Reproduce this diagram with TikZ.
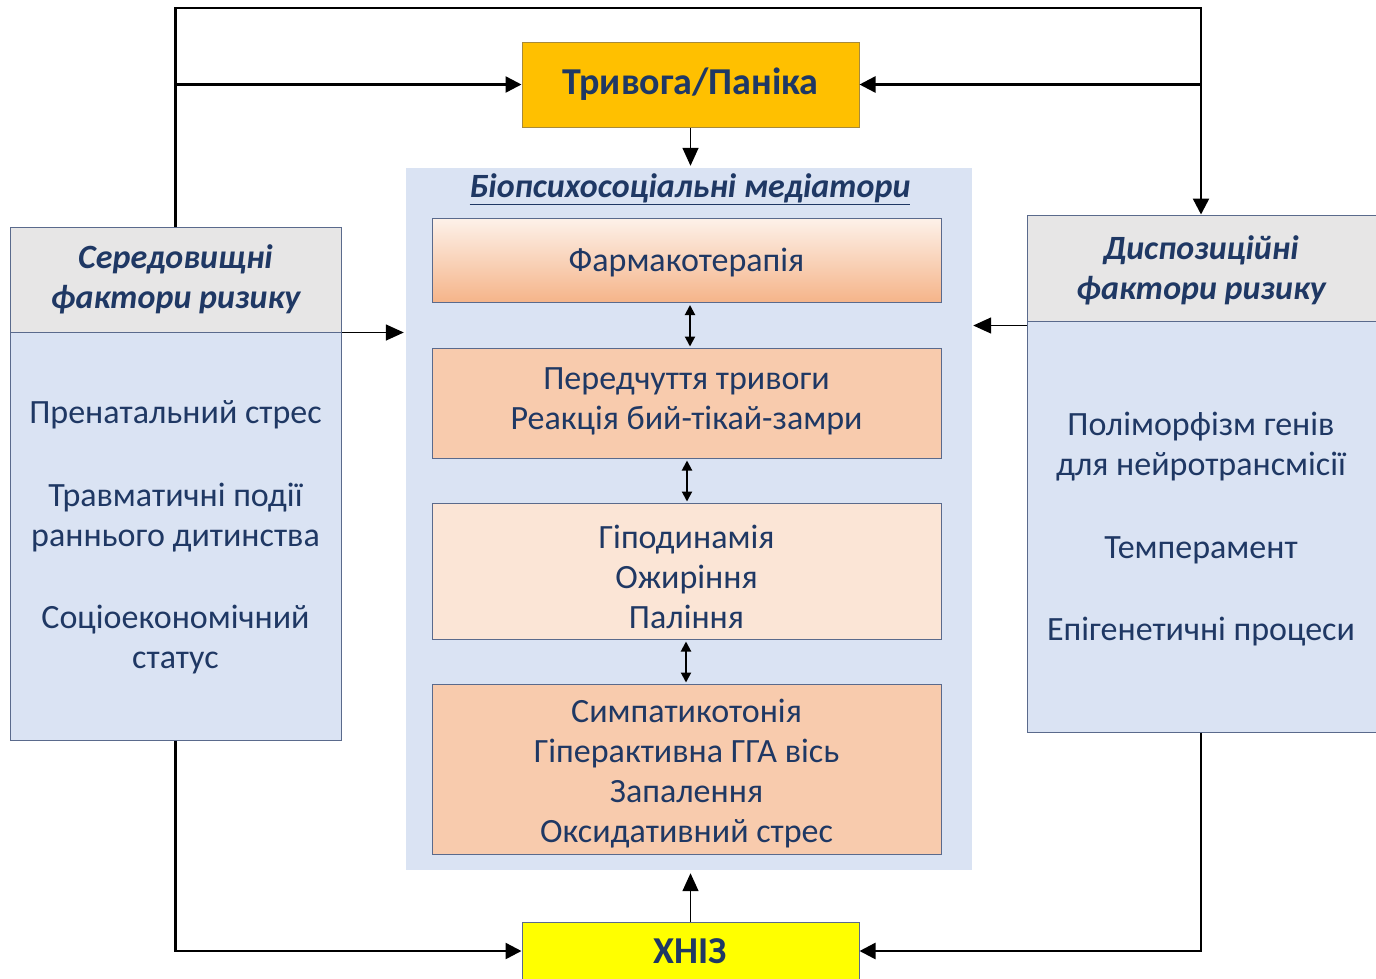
\documentclass[tikz,border=0pt]{standalone}
\usepackage{fontspec}
\setmainfont{Carlito}
\usetikzlibrary{arrows.meta,calc}
\definecolor{navy}{HTML}{1F3864}
\definecolor{panelblue}{HTML}{DAE3F3}
\definecolor{peach}{HTML}{F8CBAD}
\definecolor{lightpeach}{HTML}{FBE5D6}
\definecolor{gradtop}{HTML}{FDF1E9}
\definecolor{gradbot}{HTML}{F5B489}
\definecolor{hdrgray}{HTML}{E7E6E6}
\definecolor{edgeblue}{HTML}{5A6A8C}
\definecolor{gold}{HTML}{FFC000}
\definecolor{goldedge}{HTML}{A88A3A}
\definecolor{yel}{HTML}{FFFF00}
\newcommand\mybody{\fontsize{34}{40}\selectfont}
\newcommand\myhead{\fontsize{34}{40}\selectfont\bfseries\itshape}
\newcommand\mytitle{\fontsize{38}{44}\selectfont\bfseries}
\begin{document}
\begin{tikzpicture}[x=1pt,y=-1pt,
  medbox/.style={draw=edgeblue, line width=1pt, inner sep=0pt, align=center,
     text=navy, font=\mybody, minimum width=509pt},
  sidebox/.style={draw=edgeblue, line width=1pt, inner sep=0pt, fill=panelblue},
  sidehead/.style={draw=edgeblue, line width=1pt, inner sep=0pt, fill=hdrgray},
  headtxt/.style={align=center, text=navy, font=\myhead, inner sep=0pt},
  bodytxt/.style={align=center, text=navy, font=\mybody, inner sep=0pt},
  medtxt/.style={align=center, text=navy, font=\mybody, inner sep=0pt},
  mainline/.style={line width=2.5pt, -{Triangle[length=16pt,width=16pt]}},
  thinarrow/.style={line width=1.5pt, -{Triangle[length=18pt,width=16pt]}},
  dbl/.style={line width=2pt, {Triangle[length=10pt,width=10pt]}-{Triangle[length=10pt,width=10pt]}, shorten <=2pt, shorten >=1pt}
]
\useasboundingbox (0,0) rectangle (1376,978);

% central panel
\node[fill=panelblue, inner sep=0pt, minimum width=566pt, minimum height=702pt] (panel) at (689,519) {};
\node[text=navy, font=\fontsize{34}{40}\selectfont\bfseries\itshape, inner sep=0pt] (medtitle) at (690,189) {\underline{Біопсихосоціальні медіатори}};

\node[medbox, top color=gradtop, bottom color=gradbot, minimum height=84pt] (b1) at (686.5,260.5) {};
\node[medbox, fill=peach, minimum height=110pt] (b2) at (686.5,403) {};
\node[medbox, fill=lightpeach, minimum height=136pt] (b3) at (686.5,571) {};
\node[medbox, fill=peach, minimum height=170pt] (b4) at (686.5,769) {};
\node[medtxt] (t1) at (686.5,262.5) {Фармакотерапія};
\node[medtxt] (t2) at (686.5,401) {Передчуття тривоги\\Реакція бий-тікай-замри};
\node[medtxt] (t3) at (686.5,577) {Гіподинамія\\Ожиріння\\Паління};
\node[medtxt] (t4) at (686.5,773.5) {Симпатикотонія\\Гіперактивна ГГА вісь\\Запалення\\Оксидативний стрес};

\draw[dbl] ([xshift=3.5pt]b1.south) -- ([xshift=3.5pt]b2.north);
\draw[dbl] ([xshift=0.5pt]b2.south) -- ([xshift=0.5pt]b3.north);
\draw[dbl] ([xshift=-0.5pt]b3.south) -- ([xshift=-0.5pt]b4.north);

% top box
\node[fill=gold, draw=goldedge, line width=1pt, minimum width=337pt, minimum height=85pt, inner sep=0pt,
      text=navy, font=\mytitle] (top) at (690.5,84.5) {Тривога/Паніка};

% bottom box
\node[fill=yel, draw=edgeblue, line width=1pt, minimum width=337pt, minimum height=80pt, inner sep=0pt, anchor=north] (bot) at (690.5,922) {};
\node[text=navy, font=\mytitle, inner sep=0pt] (bottxt) at (690.5,951) {ХНІЗ};

% left box
\node[sidebox, minimum width=331pt, minimum height=513pt] (lbox) at (175.5,483.5) {};
\node[sidehead, minimum width=331pt, minimum height=105pt] (lhead) at (175.5,279.5) {};
\node[headtxt] (ltitle) at (175.5,279.5) {Середовищні\\фактори ризику};
\node[bodytxt] (lbody) at (175.5,537.5) {Пренатальний стрес\\[43pt]Травматичні події\\раннього дитинства\\[42pt]Соціоекономічний\\статус};

% right box (extends past the right edge)
\node[sidebox, minimum width=363pt, minimum height=517pt] (rbox) at (1208.5,473.5) {};
\node[sidehead, minimum width=363pt, minimum height=106pt] (rhead) at (1208.5,268) {};
\node[headtxt] (rtitle) at (1201,270) {Диспозиційні\\фактори ризику};
\node[bodytxt] (rbody) at (1201,529) {Поліморфізм генів\\для нейротрансмісії\\[43pt]Темперамент\\[42pt]Епігенетичні процеси};

% outer loop connectors
\coordinate (tl) at (175.5,8);
\coordinate (tr) at (1201,8);
\draw[mainline] (lhead.north) -- (tl) -- (tr) -- (rhead.north -| rtitle);
\draw[mainline] (tl |- top.west) -- (top.west);
\draw[mainline] (tr |- top.east) -- (top.east);
\draw[mainline] (lbox.south) |- (bot.west |- bottxt);
\draw[mainline] (rbox.south -| rtitle) |- (bot.east |- bottxt);

% arrows into the panel
\draw[thinarrow, shorten >=2pt] (top.south) -- (panel.north -| top.south);
\draw[thinarrow, shorten >=2pt] (lhead.south east) -- (panel.west |- lhead.south east);
\draw[thinarrow, shorten >=1pt] ([yshift=-4pt]rhead.south west) -- ([yshift=-4pt]panel.east |- rhead.south west);
\draw[thinarrow, shorten >=3pt] (bot.north) -- (panel.south -| bot.north);
\end{tikzpicture}
\end{document}
